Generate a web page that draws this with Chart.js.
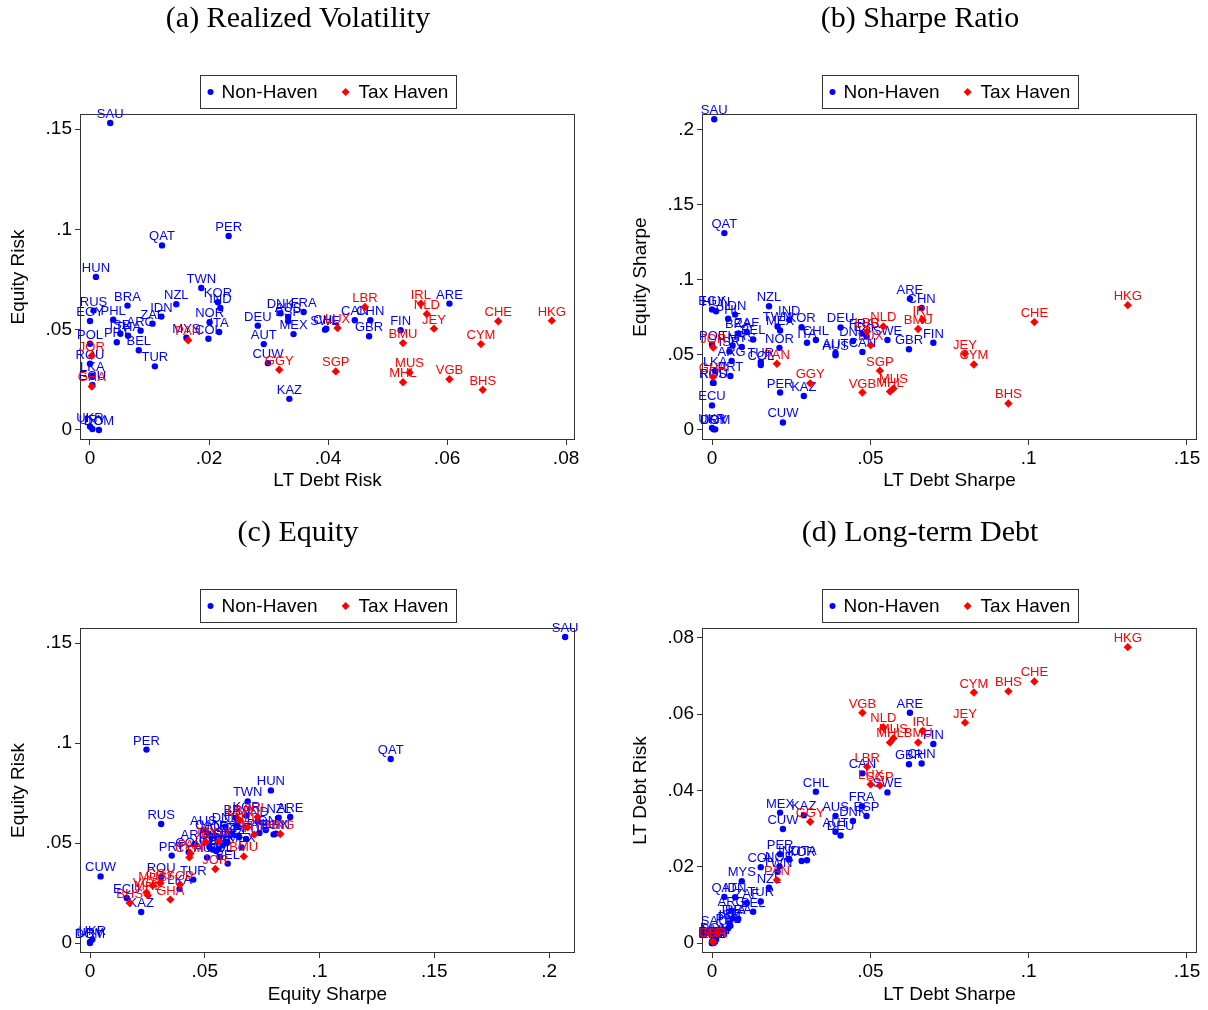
<!DOCTYPE html>
<html>
<head>
<meta charset="utf-8">
<script src="https://cdn.jsdelivr.net/npm/chart.js@4.4.1/dist/chart.umd.min.js"></script>
<style>
body { margin: 0; background: #fff; overflow: hidden; }
canvas { position: absolute; }
</style>
</head>
<body>
<canvas id="pa" width="604" height="514" style="left:0px;top:0px"></canvas>
<canvas id="pb" width="586" height="514" style="left:622px;top:0px"></canvas>
<canvas id="pc" width="604" height="496" style="left:0px;top:514px"></canvas>
<canvas id="pd" width="586" height="496" style="left:622px;top:514px"></canvas>
<script>
// countries, 1 = tax haven
const codes = ['SAU','QAT','PER','HUN','TWN','KOR','IND','NZL','BRA','RUS','EGY','PHL','IDN','ZAF','ARG','ISR',
  'THA','PRT','BEL','POL','ROU','LKA','ECU','TUR','DEU','AUT','CUW','KAZ','DNK','FRA','AUS','ESP','MEX','SWE',
  'CHL','CAN','CHN','GBR','FIN','ARE','NOR','ITA','COL','MYS','UKR','URY','DOM',
  'JOR','GHA','PAN','GGY','SGP','LUX','LBR','IRL','NLD','BMU','MUS','MHL','VGB','JEY','CYM','BHS','CHE','HKG'];
const haven = [0,0,0,0,0,0,0,0,0,0,0,0,0,0,0,0,
  0,0,0,0,0,0,0,0,0,0,0,0,0,0,0,0,0,0,
  0,0,0,0,0,0,0,0,0,0,0,0,0,
  1,1,1,1,1,1,1,1,1,1,1,1,1,1,1,1,1,1];
const debtRisk = [0.0034,0.0121,0.0233,0.0010,0.0187,0.0215,0.0219,0.0145,0.0063,0.0006,0.0000,0.0039,0.0120,0.0105,0.0085,0.0051,
  0.0064,0.0045,0.0082,0.0000,0.0000,0.0004,0.0004,0.0109,0.0282,0.0292,0.0299,0.0335,0.0320,0.0359,0.0333,0.0333,0.0342,0.0395,
  0.0397,0.0445,0.0471,0.0469,0.0522,0.0604,0.0201,0.0217,0.0199,0.0162,0.0000,0.0004,0.0015,
  0.0003,0.0003,0.0165,0.0318,0.0413,0.0416,0.0462,0.0556,0.0566,0.0526,0.0537,0.0526,0.0604,0.0578,0.0657,0.0660,0.0686,0.0776];
const equityRisk = [0.153,0.092,0.0967,0.0763,0.0708,0.0637,0.0608,0.0627,0.062,0.0595,0.0543,0.055,0.0565,0.053,0.0495,0.048,
  0.047,0.0437,0.0397,0.043,0.033,0.027,0.0225,0.0317,0.052,0.0428,0.0333,0.0155,0.0582,0.0588,0.0563,0.0542,0.0478,0.050,
  0.0505,0.0547,0.0547,0.0467,0.0497,0.063,0.0537,0.0488,0.0455,0.046,0.0017,0.0005,0.0000,
  0.037,0.0217,0.0447,0.030,0.0292,0.0508,0.0613,0.063,0.0578,0.0433,0.0287,0.0238,0.0253,0.0505,0.0428,0.020,0.0542,0.0545];
const debtSharpe = [0.0007,0.0039,0.0215,0.0013,0.0207,0.0283,0.0244,0.018,0.0083,0.0003,0.0000,0.0051,0.0073,0.011,0.0062,0.0055,
  0.0065,0.0058,0.013,0.0000,0.0005,0.001,0.0000,0.0154,0.0406,0.039,0.0224,0.029,0.0445,0.0473,0.039,0.0488,0.0215,0.0554,
  0.0328,0.0475,0.0662,0.0622,0.0699,0.0625,0.0213,0.030,0.0154,0.0094,0.0000,0.0005,0.001,
  0.0004,0.0003,0.0205,0.031,0.053,0.0501,0.049,0.0665,0.0541,0.0651,0.0573,0.0562,0.0475,0.0799,0.0827,0.0936,0.1018,0.1313];
const equitySharpe = [0.207,0.131,0.0246,0.0788,0.0687,0.0682,0.0731,0.0822,0.064,0.031,0.080,0.0738,0.0766,0.065,0.0456,0.052,
  0.056,0.0356,0.060,0.0566,0.031,0.039,0.016,0.045,0.068,0.051,0.0046,0.0223,0.059,0.064,0.0494,0.062,0.066,0.0596,
  0.0596,0.0517,0.081,0.0535,0.0578,0.0872,0.0544,0.0578,0.043,0.055,0.001,0.000,0.000,
  0.0546,0.035,0.0438,0.0307,0.0392,0.0562,0.0653,0.073,0.0687,0.067,0.0273,0.0252,0.0246,0.0505,0.0433,0.0173,0.0716,0.0829];

const titles = ['(a) Realized Volatility', '(b) Sharpe Ratio', '(c) Equity', '(d) Long-term Debt'];
const legendLabels = ['Non-Haven', 'Tax Haven'];
const riskTicks = [0, .05, .1, .15];
const debtRiskTicks = [0, .02, .04, .06, .08];
const debtSharpeTicks = [0, .05, .1, .15];
const equitySharpeTicksB = [0, .05, .1, .15, .2];
const equitySharpeTicksC = [0, .05, .1, .15, .2];
const blue = '#0000ff';
const red = '#ff0000';

Chart.defaults.font.family = '"Liberation Sans", Arial, sans-serif';
Chart.defaults.font.size = 19;
Chart.defaults.color = '#000';

const fmt = v => v === 0 ? '0' : String(v).replace(/^0\./, '.');

const decor = {
  id: 'decor',
  beforeDatasetsDraw(chart, args, opts) {
    const {ctx, chartArea: a} = chart;
    ctx.save();
    ctx.strokeStyle = '#333';
    ctx.lineWidth = 1;
    ctx.strokeRect(a.left + 0.5, a.top + 0.5, a.right - a.left - 1, a.bottom - a.top - 1);
    const cx = (a.left + a.right) / 2;
    // panel title
    ctx.fillStyle = '#000';
    ctx.font = '30px "Liberation Serif", serif';
    ctx.textAlign = 'center';
    ctx.textBaseline = 'middle';
    ctx.fillText(opts.title, cx - 29.5, 19);
    // legend box
    ctx.font = '19px "Liberation Sans", Arial, sans-serif';
    const w1 = ctx.measureText(legendLabels[0]).width;
    const w2 = ctx.measureText(legendLabels[1]).width;
    const bw = 21 + w1 + 28 + 13 + w2 + 8;
    const bx = Math.round(cx - bw / 2) + 0.5;
    ctx.strokeRect(bx, 75.5, Math.round(bw), 33);
    const ly = 92;
    ctx.textAlign = 'left';
    ctx.fillStyle = blue;
    ctx.beginPath(); ctx.arc(bx + 10, ly, 3, 0, Math.PI * 2); ctx.fill();
    ctx.fillStyle = '#000';
    ctx.fillText(legendLabels[0], bx + 21, ly + 1);
    const dx = bx + 21 + w1 + 28;
    ctx.fillStyle = red;
    ctx.beginPath();
    ctx.moveTo(dx, ly - 4); ctx.lineTo(dx + 4, ly); ctx.lineTo(dx, ly + 4); ctx.lineTo(dx - 4, ly);
    ctx.closePath(); ctx.fill();
    ctx.fillStyle = '#000';
    ctx.fillText(legendLabels[1], dx + 13, ly + 1);
    ctx.restore();
  },
  afterDatasetDraw(chart, args) {
    const {ctx} = chart;
    const ds = chart.data.datasets[args.index];
    ctx.save();
    ctx.font = '13px "Liberation Sans", Arial, sans-serif';
    ctx.fillStyle = ds.borderColor;
    ctx.textAlign = 'center';
    ctx.textBaseline = 'alphabetic';
    args.meta.data.forEach((pt, i) => {
      ctx.fillText(ds.data[i].code, pt.x, pt.y - 5);
    });
    ctx.restore();
  }
};

function makePanel(id, title, xs, ys, xTitle, yTitle, xTicks, yTicks, xMin, xMax, yMin, yMax, rightPad, xHeight, xTitlePad) {
  const nonHaven = [], taxHaven = [];
  codes.forEach((c, i) => {
    const p = {x: xs[i], y: ys[i], code: c};
    (haven[i] ? taxHaven : nonHaven).push(p);
  });
  new Chart(document.getElementById(id), {
    type: 'scatter',
    data: {
      datasets: [
        {data: nonHaven, backgroundColor: blue, borderColor: blue, pointStyle: 'circle', pointRadius: 3.2, borderWidth: 0, order: 2},
        {data: taxHaven, backgroundColor: red, borderColor: red, pointStyle: 'rectRot', pointRadius: 4.2, borderWidth: 0, order: 1}
      ]
    },
    options: {
      responsive: false,
      animation: false,
      layout: {padding: {top: 114, right: rightPad, left: 0, bottom: 0}},
      plugins: {legend: {display: false}, tooltip: {enabled: false}, decor: {title: title}},
      scales: {
        x: {
          type: 'linear', min: xMin, max: xMax,
          afterBuildTicks: s => { s.ticks = xTicks.map(v => ({value: v})); },
          afterFit: s => { s.height = xHeight; },
          ticks: {callback: fmt, padding: 2, maxRotation: 0, autoSkip: false},
          grid: {drawOnChartArea: false, drawTicks: true, tickLength: 5, color: '#333'},
          border: {display: false},
          title: {display: true, text: xTitle, padding: {top: 0, bottom: xTitlePad}}
        },
        y: {
          type: 'linear', min: yMin, max: yMax,
          afterBuildTicks: s => { s.ticks = yTicks.map(v => ({value: v})); },
          afterFit: s => { s.width = 80; },
          ticks: {callback: fmt, padding: 3, autoSkip: false},
          grid: {drawOnChartArea: false, drawTicks: true, tickLength: 5, color: '#333'},
          border: {display: false},
          title: {display: true, text: yTitle, padding: {top: 7, bottom: 0}}
        }
      }
    },
    plugins: [decor]
  });
}

makePanel('pa', titles[0], debtRisk, equityRisk, 'LT Debt Risk', 'Equity Risk',
  debtRiskTicks, riskTicks, -0.00168, 0.0815, -0.005, 0.1575, 29, 74, 21.6);
makePanel('pb', titles[1], debtSharpe, equitySharpe, 'LT Debt Sharpe', 'Equity Sharpe',
  debtSharpeTicks, equitySharpeTicksB, -0.00316, 0.15316, -0.0071, 0.2105, 11, 74, 21.6);
makePanel('pc', titles[2], equitySharpe, equityRisk, 'Equity Sharpe', 'Equity Risk',
  equitySharpeTicksC, riskTicks, -0.00436, 0.2113, -0.005, 0.1575, 29, 57, 3.6);
makePanel('pd', titles[3], debtSharpe, debtRisk, 'LT Debt Sharpe', 'LT Debt Risk',
  debtSharpeTicks, debtRiskTicks, -0.00316, 0.15316, -0.00262, 0.08262, 11, 57, 3.6);
</script>
</body>
</html>
